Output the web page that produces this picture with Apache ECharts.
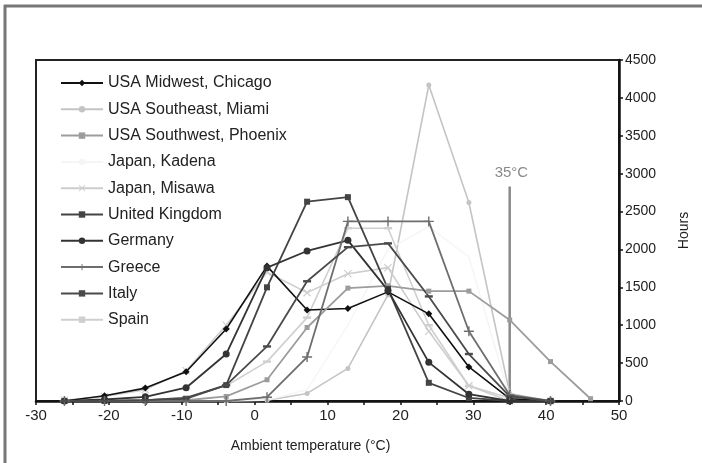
<!DOCTYPE html>
<html>
<head>
<meta charset="utf-8">
<script src="https://cdn.jsdelivr.net/npm/echarts@6/dist/echarts.min.js"></script>
<style>
html,body{margin:0;padding:0;background:#fff;}
#chart{width:702px;height:463px;}
</style>
</head>
<body>
<div id="chart"></div>
<script>
// Bin centres (°C) at which hours are given
const temps = [-26.1, -20.6, -15, -9.4, -3.9, 1.7, 7.2, 12.8, 18.3, 23.9, 29.4, 35, 40.6, 46.1];

const chicago = [0, 70, 170, 385, 950, 1780, 1200, 1220, 1440, 1150, 450, 30, 0, null];
const miami   = [0, 0, 0, 0, 0, 10, 100, 430, 1400, 4170, 2620, 100, 0, null];
const phoenix = [0, 0, 0, 10, 60, 280, 970, 1490, 1520, 1450, 1450, 1070, 520, 30];
const kadena  = [0, 0, 0, 0, 0, 10, 150, 1000, 2000, 2300, 1900, 50, 0, null];
const misawa  = [10, 60, 150, 400, 1000, 1700, 1430, 1680, 1760, 920, 200, 0, 0, null];
const uk      = [0, 0, 10, 30, 210, 1500, 2630, 2690, 1480, 240, 40, 0, 0, null];
const germany = [0, 20, 55, 175, 620, 1760, 1980, 2120, 1460, 510, 90, 0, 0, null];
const greece  = [0, 0, 0, 0, 0, 50, 580, 2370, 2370, 2370, 920, 80, 0, null];
const italy   = [0, 0, 10, 40, 210, 720, 1580, 2030, 2080, 1380, 620, 60, 0, null];
const spain   = [0, 0, 10, 50, 200, 520, 1100, 2280, 2280, 1000, 200, 40, 0, null];

const limitTemp = 35;
const limitTop = 2830;
const limitLabel = '35°C';

const xTicks = { min: -30, max: 50, interval: 10 };
const yTicks = { min: 0, max: 4500, interval: 500 };

const names = ['USA Midwest, Chicago', 'USA Southeast, Miami', 'USA Southwest, Phoenix',
  'Japan, Kadena', 'Japan, Misawa', 'United Kingdom', 'Germany', 'Greece', 'Italy', 'Spain'];
const values = [chicago, miami, phoenix, kadena, misawa, uk, germany, greece, italy, spain];

const X_PATH = 'path://M0,1L1,0L5,4L9,0L10,1L6,5L10,9L9,10L5,6L1,10L0,9L4,5Z';
const PLUS_PATH = 'path://M4.3,0H5.7V4.3H10V5.7H5.7V10H4.3V5.7H0V4.3H4.3Z';
const DASH_PATH = 'path://M0,0H10V3H0Z';
const styles = [
  { color: '#111111', symbol: 'diamond', size: 7, width: 1.6 },
  { color: '#c4c4c4', symbol: 'circle', size: 5, width: 1.6 },
  { color: '#9c9c9c', symbol: 'rect', size: 5, width: 1.8 },
  { color: '#f5f5f5', symbol: 'none', size: 0, width: 1.4 },
  { color: '#cdcdcd', symbol: X_PATH, size: 8, width: 1.6 },
  { color: '#444444', symbol: 'rect', size: 6, width: 1.8 },
  { color: '#333333', symbol: 'circle', size: 7, width: 1.8 },
  { color: '#6e6e6e', symbol: PLUS_PATH, size: 10, width: 1.8 },
  { color: '#4a4a4a', symbol: DASH_PATH, size: 8, width: 1.8 },
  { color: '#cfcfcf', symbol: DASH_PATH, size: 8, width: 1.6 }
];

function pairs(vals) {
  const out = [];
  temps.forEach((t, i) => { if (vals[i] !== null) out.push([t, vals[i]]); });
  return out;
}

const series = names.map((n, i) => ({
  name: n,
  type: 'line',
  data: pairs(values[i]),
  symbol: styles[i].symbol,
  symbolSize: styles[i].size,
  symbolKeepAspect: true,
  showSymbol: styles[i].symbol !== 'none',
  itemStyle: { color: styles[i].color },
  lineStyle: { color: styles[i].color, width: styles[i].width },
  z: 10 - (i === 1 || i === 3 || i === 9 || i === 4 ? 5 : 0),
  animation: false
}));

series.push({
  name: 'limit',
  type: 'line',
  data: [[limitTemp, 0], [limitTemp, limitTop]],
  showSymbol: false,
  symbol: 'none',
  lineStyle: { color: '#8a8a8a', width: 2.5 },
  endLabel: {
    show: true,
    formatter: limitLabel,
    color: '#8a8a8a',
    fontSize: 15,
    fontFamily: 'Liberation Sans, Arial, sans-serif',
    offset: [-23, -14]
  },
  z: 3,
  animation: false
});

const chart = echarts.init(document.getElementById('chart'), null, { renderer: 'canvas' });
chart.setOption({
  animation: false,
  backgroundColor: '#ffffff',
  textStyle: { fontFamily: 'Liberation Sans, Arial, sans-serif' },
  grid: { left: 36, right: 83, top: 60, bottom: 62, show: true, borderColor: '#222', borderWidth: 2 },
  legend: {
    data: names,
    orient: 'vertical',
    left: 55,
    top: 69,
    itemWidth: 42,
    itemHeight: 8,
    itemGap: 8.3,
    textStyle: { fontSize: 16, color: '#222', lineHeight: 18, fontFamily: 'Liberation Sans, Arial, sans-serif' },
    inactiveColor: '#ccc'
  },
  xAxis: {
    type: 'value',
    min: xTicks.min, max: xTicks.max, interval: xTicks.interval,
    name: 'Ambient temperature (°C)',
    nameLocation: 'middle',
    nameGap: 38,
    nameTextStyle: { fontSize: 14, color: '#222', padding: [0, 34, 0, 0] },
    axisLine: { onZero: false, lineStyle: { color: '#111', width: 2.5 } },
    axisTick: { show: true, length: 4, lineStyle: { color: '#111', width: 1.5 } },
    minorTick: { show: true, splitNumber: 2, length: 4, lineStyle: { color: '#111', width: 1.5 } },
    splitLine: { show: false },
    axisLabel: { fontSize: 15, color: '#222', margin: 7 }
  },
  yAxis: {
    type: 'value',
    position: 'right',
    min: yTicks.min, max: yTicks.max, interval: yTicks.interval,
    name: 'Hours',
    nameLocation: 'middle',
    nameGap: 58,
    nameRotate: 90,
    nameTextStyle: { fontSize: 14, color: '#222' },
    axisLine: { show: true, onZero: false, lineStyle: { color: '#111', width: 2.5 } },
    axisTick: { show: true, length: 4, lineStyle: { color: '#111', width: 1.5 } },
    splitLine: { show: false },
    axisLabel: { fontSize: 14, color: '#222', margin: 6, formatter: v => String(v) }
  },
  graphic: [
    { type: 'line', shape: { x1: 4, y1: 6, x2: 702, y2: 6 }, style: { stroke: '#777', lineWidth: 3 }, silent: true },
    { type: 'line', shape: { x1: 5, y1: 5, x2: 5, y2: 463 }, style: { stroke: '#777', lineWidth: 3 }, silent: true }
  ],
  series: series
});
</script>
</body>
</html>
